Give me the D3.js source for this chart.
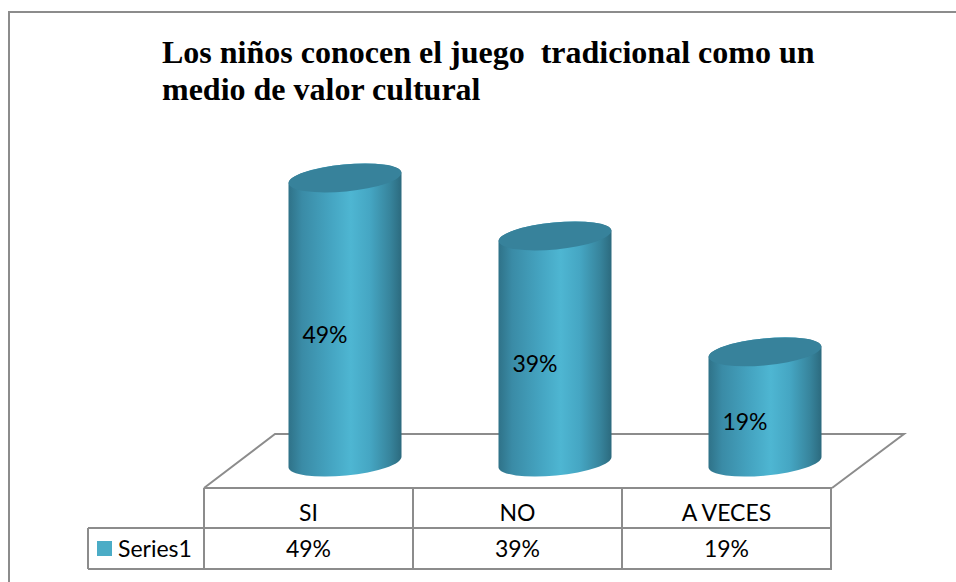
<!DOCTYPE html>
<html>
<head>
<meta charset="utf-8">
<script src="https://cdn.jsdelivr.net/npm/d3@7"></script>
<style>
    html, body { margin: 0; padding: 0; background: #fff; overflow: hidden; }
    text { fill: #000; }
    .cell { font-family: Lato, "Open Sans", sans-serif; font-size: 23px; }
    .title { font-family: "Liberation Serif", serif; font-weight: bold; font-size: 32px; }
</style>
</head>
<body>
<div id="chart"></div>
<script>
const categories = ["SI", "NO", "A VECES"];
const values = [49, 39, 19];
const seriesName = "Series1";
const titleLines = ["Los niños conocen el juego  tradicional como un", "medio de valor cultural"];

const width = 956, height = 582;
const lineColor = "#8c8c8c";

const svg = d3.select("#chart").append("svg")
    .attr("width", width)
    .attr("height", height);

// table columns
const x = d3.scaleBand()
    .domain(categories)
    .range([204, 831])
    .paddingInner(0)
    .paddingOuter(0);

// same bands pushed back onto the 3d floor
const xFloor = x.copy().range([240, 870]);

// floor level to top of the tallest cylinder
const y = d3.scaleLinear()
    .domain([0, 49])
    .range([462, 178]);

// cylinder shading, dark at the edges with the highlight right of centre
const defs = svg.append("defs");
const grad = defs.append("linearGradient").attr("id", "cyl");
[[0, "#2f7288"], [0.12, "#3a8ba6"], [0.38, "#45a5c2"], [0.55, "#4eb6d2"], [0.72, "#45a6c3"], [0.9, "#37849c"], [1, "#2c6a7e"]]
    .forEach(s => grad.append("stop").attr("offset", s[0]).attr("stop-color", s[1]));

// outer frame, cut off by the right and bottom of the picture
svg.append("path")
    .attr("d", d3.line()([[9, height], [9, 12], [width, 12]]))
    .attr("fill", "none")
    .attr("stroke", lineColor)
    .attr("stroke-width", 2);

svg.selectAll(".title")
    .data(titleLines)
    .enter().append("text")
    .attr("class", "title")
    .attr("x", 162)
    .attr("y", (d, i) => 63 + i * 37)
    .attr("xml:space", "preserve")
    .style("white-space", "pre")
    .text(d => d);

// floor of the 3d plot
const floorTop = 434, floorBottom = 488;
svg.append("path")
    .attr("d", d3.line()([[204, floorBottom], [275, floorTop], [904, floorTop], [832, floorBottom]]))
    .attr("fill", "#fff")
    .attr("stroke", lineColor)
    .attr("stroke-width", 2);

// tilted ellipse as an svg arc
const rx = 56.5, ry = 13.5, tilt = -5.5;
function cylinderPath(d) {
    const cx = xFloor(d.cat) + xFloor.bandwidth() / 2;
    const top = y(d.val), base = y(0);
    const dy = rx * Math.tan(tilt * Math.PI / 180);
    return "M" + (cx - rx) + "," + (top - dy)
        + "L" + (cx - rx) + "," + (base - dy)
        + "A" + rx + "," + ry + " " + tilt + " 0 0 " + (cx + rx) + "," + (base + dy)
        + "L" + (cx + rx) + "," + (top + dy)
        + "A" + rx + "," + ry + " " + tilt + " 0 0 " + (cx - rx) + "," + (top - dy) + "Z";
}

const rows = categories.map((c, i) => ({cat: c, val: values[i]}));

svg.selectAll(".cyl")
    .data(rows)
    .enter().append("path")
    .attr("class", "cyl")
    .attr("d", cylinderPath)
    .attr("fill", "url(#cyl)");

svg.selectAll(".cap")
    .data(rows)
    .enter().append("ellipse")
    .attr("class", "cap")
    .attr("rx", rx)
    .attr("ry", ry)
    .attr("fill", "#37829b")
    .attr("transform", d => "translate(" + (xFloor(d.cat) + xFloor.bandwidth() / 2) + "," + y(d.val) + ") rotate(" + tilt + ")");

// value labels sit left of centre, about halfway up
svg.selectAll(".label")
    .data(rows)
    .enter().append("text")
    .attr("class", "cell")
    .attr("x", d => xFloor(d.cat) + xFloor.bandwidth() / 2 - 20)
    .attr("y", d => (y(0) + y(d.val)) / 2 + 23)
    .attr("text-anchor", "middle")
    .text(d => d.val + "%");

// data table
const rowTop = 488, rowMid = 528, rowBottom = 569, legendLeft = 88;
const gridLines = [
    [[204, rowTop], [832, rowTop]],
    [[legendLeft, rowMid], [832, rowMid]],
    [[legendLeft, rowBottom], [832, rowBottom]],
    [[legendLeft, rowMid], [legendLeft, rowBottom]]
].concat(d3.range(categories.length + 1).map(i => {
    const xi = i < categories.length ? x(categories[i]) : x.range()[1];
    return [[xi, rowTop], [xi, rowBottom]];
}));

svg.selectAll(".grid")
    .data(gridLines)
    .enter().append("path")
    .attr("class", "grid")
    .attr("d", d3.line())
    .attr("fill", "none")
    .attr("stroke", lineColor)
    .attr("stroke-width", 2);

svg.selectAll(".cat")
    .data(rows)
    .enter().append("text")
    .attr("class", "cell")
    .attr("x", d => x(d.cat) + x.bandwidth() / 2)
    .attr("y", 521)
    .attr("text-anchor", "middle")
    .text(d => d.cat);

svg.selectAll(".val")
    .data(rows)
    .enter().append("text")
    .attr("class", "cell")
    .attr("x", d => x(d.cat) + x.bandwidth() / 2)
    .attr("y", 557)
    .attr("text-anchor", "middle")
    .text(d => d.val + "%");

// legend key
svg.append("rect")
    .attr("x", 97).attr("y", 541)
    .attr("width", 15).attr("height", 15)
    .attr("fill", "#4bacc6");

svg.append("text")
    .attr("class", "cell")
    .attr("x", 118)
    .attr("y", 557)
    .text(seriesName);
</script>
</body>
</html>
